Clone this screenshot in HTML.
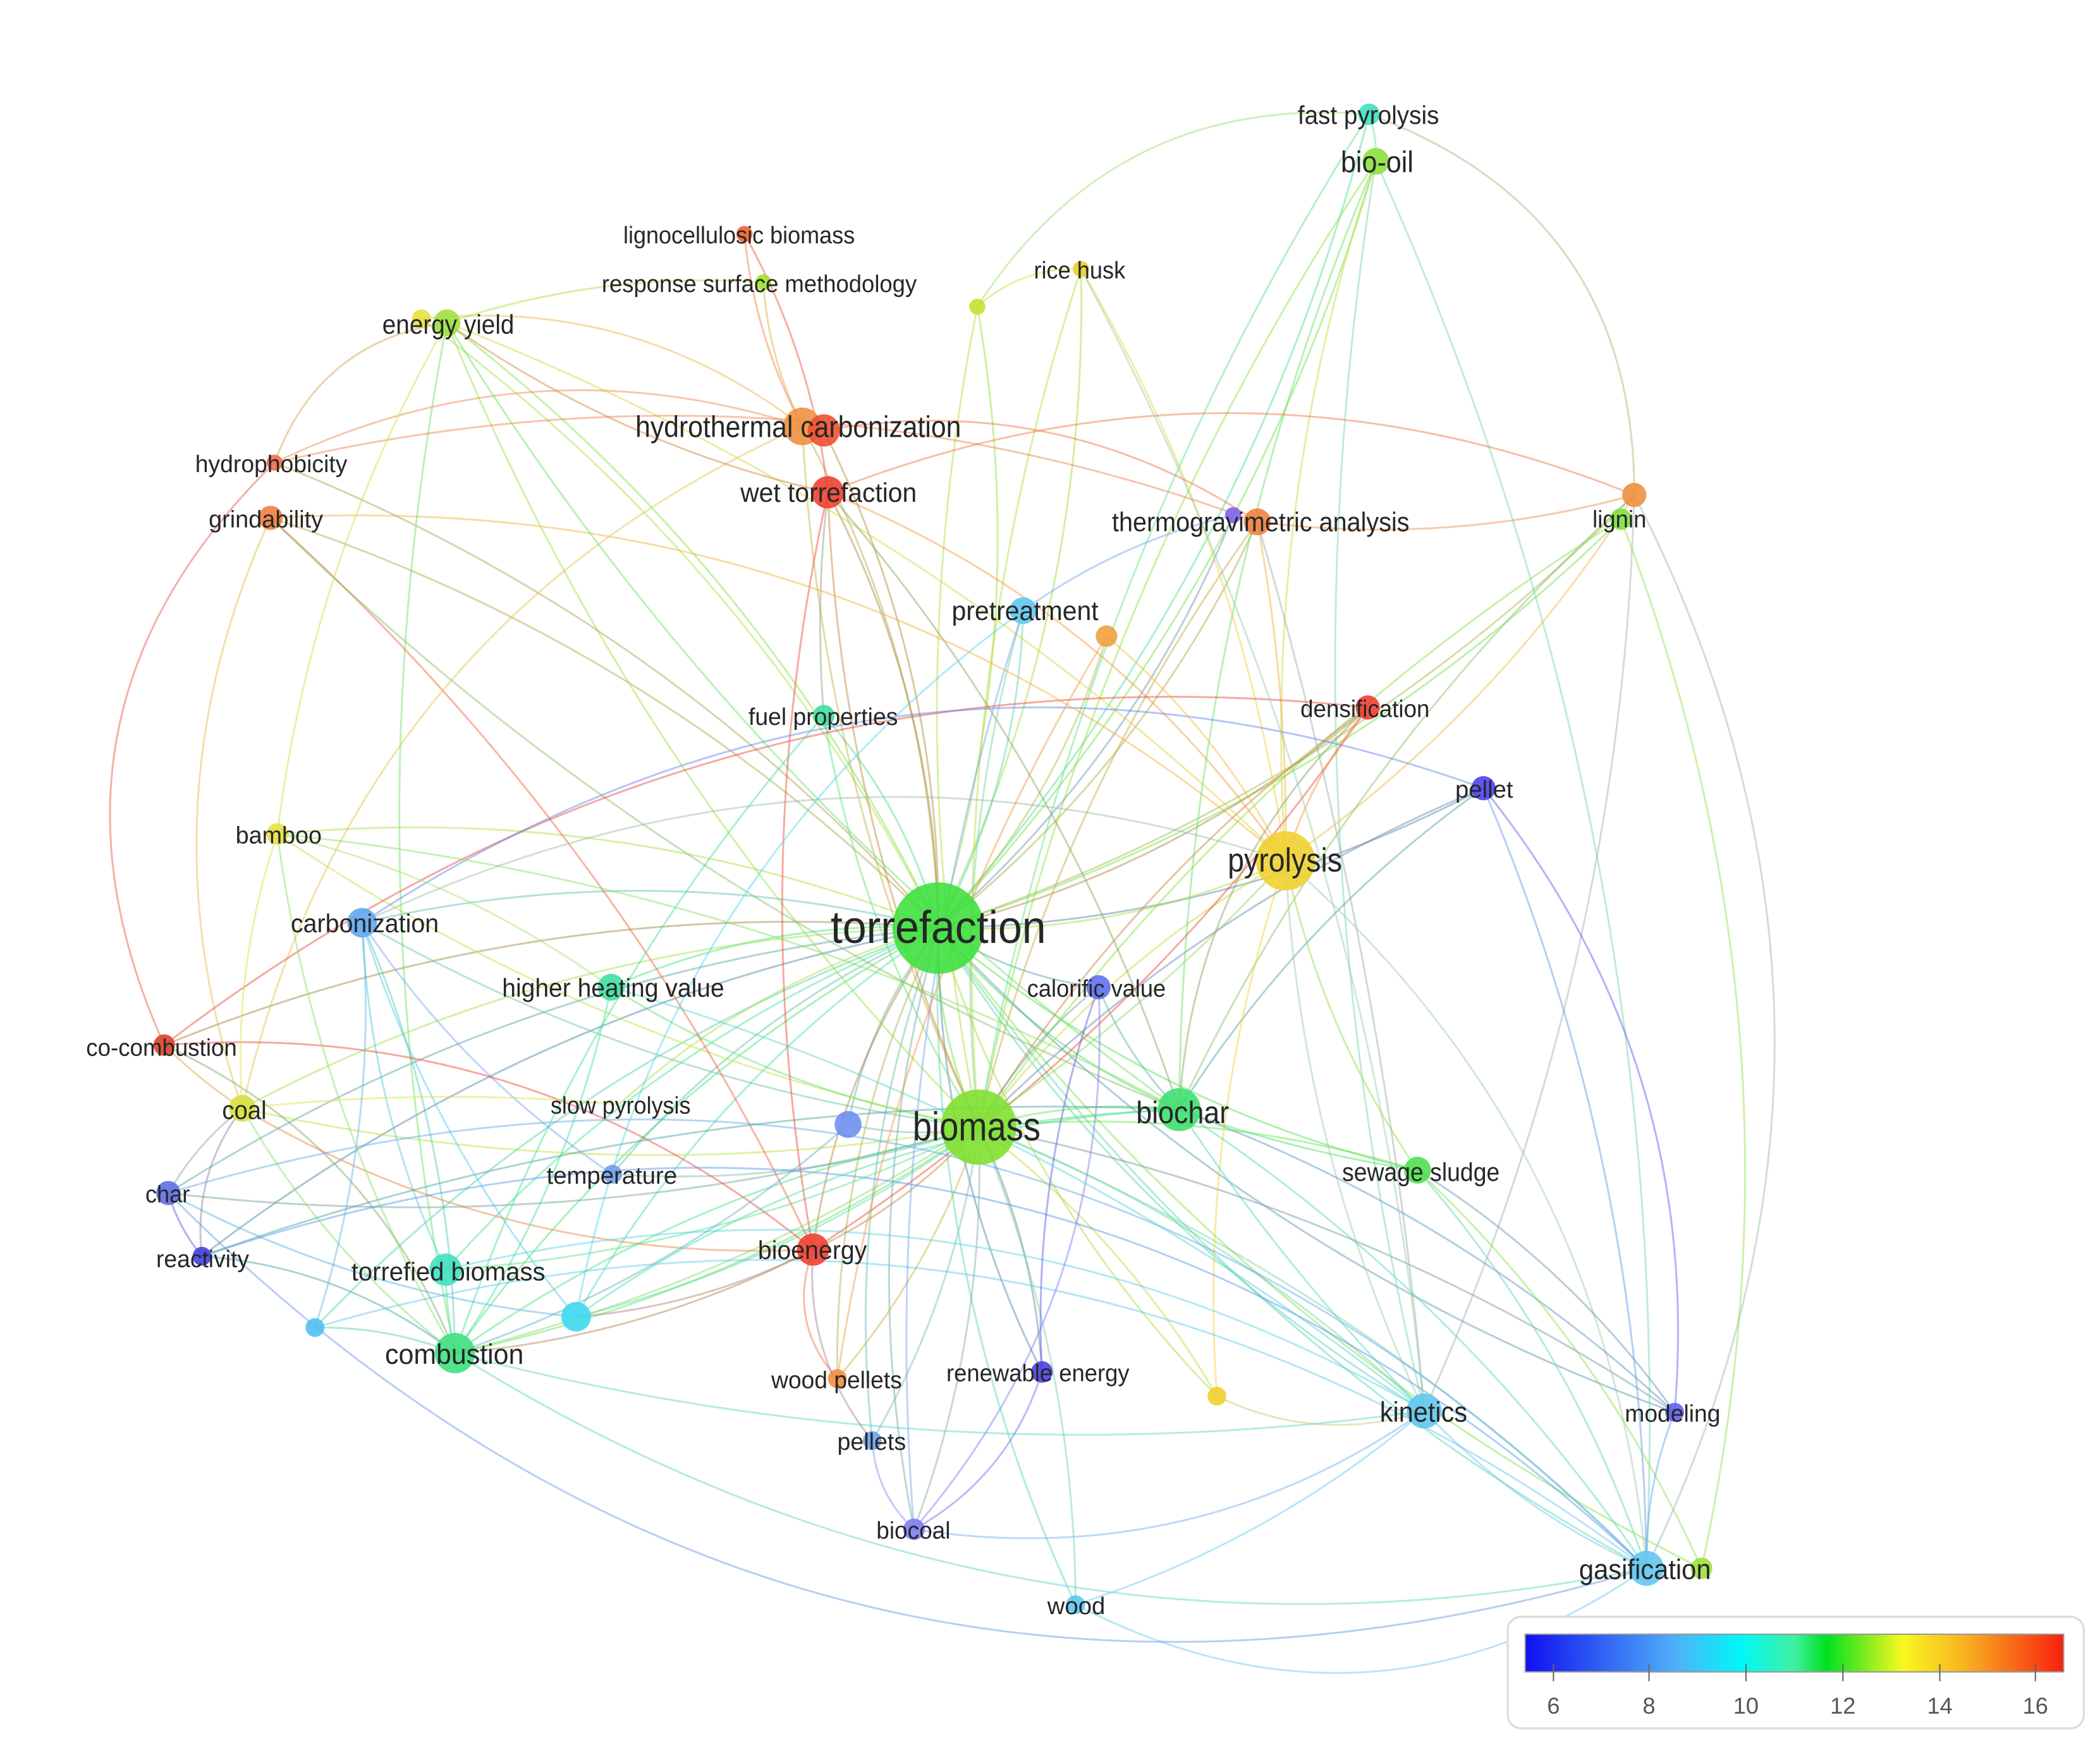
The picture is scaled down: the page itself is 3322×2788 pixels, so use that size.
<!DOCTYPE html>
<html><head><meta charset="utf-8"><style>
html,body{margin:0;padding:0;background:#fff;width:3322px;height:2788px;overflow:hidden}
svg{display:block}
text{font-family:"Liberation Sans",sans-serif;fill:#262626}
</style></head><body>
<svg id="s" width="3322" height="2788" viewBox="0 0 1560 1310" preserveAspectRatio="none" xmlns="http://www.w3.org/2000/svg">
<defs><linearGradient id="lg" x1="0" x2="1" y1="0" y2="0">
<stop offset="0" stop-color="#1010f0"/><stop offset="0.28" stop-color="#50b0f8"/><stop offset="0.4" stop-color="#00f8f8"/><stop offset="0.5" stop-color="#40f0a0"/><stop offset="0.56" stop-color="#00e020"/><stop offset="0.7" stop-color="#f8f820"/><stop offset="0.82" stop-color="#f8b020"/><stop offset="1" stop-color="#f82010"/></linearGradient></defs>
<g id="edges" fill="none" stroke-width="1.4" stroke-opacity="0.45"></g>
<g id="nodes"></g>
<g id="labels">
<text x="964" y="92" font-size="19" textLength="105" lengthAdjust="spacingAndGlyphs">fast pyrolysis</text>
<text x="996" y="128" font-size="22" textLength="54" lengthAdjust="spacingAndGlyphs">bio-oil</text>
<text x="463" y="181" font-size="18" textLength="172" lengthAdjust="spacingAndGlyphs">lignocellulosic biomass</text>
<text x="447" y="217" font-size="18" textLength="234" lengthAdjust="spacingAndGlyphs">response surface methodology</text>
<text x="768" y="207" font-size="18" textLength="68" lengthAdjust="spacingAndGlyphs">rice husk</text>
<text x="284" y="248" font-size="20" textLength="98" lengthAdjust="spacingAndGlyphs">energy yield</text>
<text x="472" y="325" font-size="22" textLength="242" lengthAdjust="spacingAndGlyphs">hydrothermal carbonization</text>
<text x="145" y="351" font-size="18" textLength="113" lengthAdjust="spacingAndGlyphs">hydrophobicity</text>
<text x="155" y="392" font-size="18" textLength="85" lengthAdjust="spacingAndGlyphs">grindability</text>
<text x="550" y="373" font-size="20" textLength="131" lengthAdjust="spacingAndGlyphs">wet torrefaction</text>
<text x="826" y="395" font-size="20" textLength="221" lengthAdjust="spacingAndGlyphs">thermogravimetric analysis</text>
<text x="1183" y="392" font-size="18" textLength="40" lengthAdjust="spacingAndGlyphs">lignin</text>
<text x="707" y="461" font-size="20" textLength="109" lengthAdjust="spacingAndGlyphs">pretreatment</text>
<text x="556" y="539" font-size="18" textLength="111" lengthAdjust="spacingAndGlyphs">fuel properties</text>
<text x="966" y="533" font-size="18" textLength="96" lengthAdjust="spacingAndGlyphs">densification</text>
<text x="1081" y="593" font-size="18" textLength="43" lengthAdjust="spacingAndGlyphs">pellet</text>
<text x="175" y="627" font-size="18" textLength="64" lengthAdjust="spacingAndGlyphs">bamboo</text>
<text x="912" y="648" font-size="25" textLength="85" lengthAdjust="spacingAndGlyphs">pyrolysis</text>
<text x="617" y="701" font-size="34" textLength="160" lengthAdjust="spacingAndGlyphs">torrefaction</text>
<text x="216" y="693" font-size="19" textLength="110" lengthAdjust="spacingAndGlyphs">carbonization</text>
<text x="373" y="741" font-size="19" textLength="165" lengthAdjust="spacingAndGlyphs">higher heating value</text>
<text x="763" y="741" font-size="18" textLength="103" lengthAdjust="spacingAndGlyphs">calorific value</text>
<text x="64" y="785" font-size="18" textLength="112" lengthAdjust="spacingAndGlyphs">co-combustion</text>
<text x="165" y="832" font-size="19" textLength="33" lengthAdjust="spacingAndGlyphs">coal</text>
<text x="409" y="828" font-size="18" textLength="104" lengthAdjust="spacingAndGlyphs">slow pyrolysis</text>
<text x="678" y="848" font-size="30" textLength="95" lengthAdjust="spacingAndGlyphs">biomass</text>
<text x="844" y="835" font-size="23" textLength="69" lengthAdjust="spacingAndGlyphs">biochar</text>
<text x="997" y="878" font-size="19" textLength="117" lengthAdjust="spacingAndGlyphs">sewage sludge</text>
<text x="406" y="880" font-size="18" textLength="97" lengthAdjust="spacingAndGlyphs">temperature</text>
<text x="108" y="894" font-size="18" textLength="33" lengthAdjust="spacingAndGlyphs">char</text>
<text x="116" y="942" font-size="18" textLength="69" lengthAdjust="spacingAndGlyphs">reactivity</text>
<text x="563" y="936" font-size="19" textLength="81" lengthAdjust="spacingAndGlyphs">bioenergy</text>
<text x="261" y="952" font-size="19" textLength="144" lengthAdjust="spacingAndGlyphs">torrefied biomass</text>
<text x="286" y="1014" font-size="21" textLength="103" lengthAdjust="spacingAndGlyphs">combustion</text>
<text x="573" y="1032" font-size="18" textLength="97" lengthAdjust="spacingAndGlyphs">wood pellets</text>
<text x="703" y="1027" font-size="18" textLength="136" lengthAdjust="spacingAndGlyphs">renewable energy</text>
<text x="1025" y="1057" font-size="21" textLength="65" lengthAdjust="spacingAndGlyphs">kinetics</text>
<text x="1207" y="1057" font-size="18" textLength="71" lengthAdjust="spacingAndGlyphs">modeling</text>
<text x="622" y="1078" font-size="18" textLength="51" lengthAdjust="spacingAndGlyphs">pellets</text>
<text x="651" y="1144" font-size="18" textLength="55" lengthAdjust="spacingAndGlyphs">biocoal</text>
<text x="1173" y="1174" font-size="21" textLength="98" lengthAdjust="spacingAndGlyphs">gasification</text>
<text x="778" y="1200" font-size="18" textLength="43" lengthAdjust="spacingAndGlyphs">wood</text>
</g>
<g id="legend">
<rect x="1120" y="1202" width="428" height="83" rx="10" fill="#fff" stroke="#dcdcdc" stroke-width="1.5"/>
<rect x="1133" y="1215" width="400" height="28" fill="url(#lg)" stroke="#999" stroke-width="1"/>
<g stroke="#666" stroke-width="1">
<line x1="1154" y1="1237" x2="1154" y2="1250"/><line x1="1225" y1="1237" x2="1225" y2="1250"/><line x1="1297" y1="1237" x2="1297" y2="1250"/><line x1="1369" y1="1237" x2="1369" y2="1250"/><line x1="1441" y1="1237" x2="1441" y2="1250"/><line x1="1512" y1="1237" x2="1512" y2="1250"/></g>
<g font-size="17" text-anchor="middle">
<text x="1154" y="1274" style="fill:#555">6</text><text x="1225" y="1274" style="fill:#555">8</text><text x="1297" y="1274" style="fill:#555">10</text><text x="1369" y="1274" style="fill:#555">12</text><text x="1441" y="1274" style="fill:#555">14</text><text x="1512" y="1274" style="fill:#555">16</text></g>
</g>
</svg>
<script>
var N={
fp:[1017,85,8,"#40e0c0"],bo:[1022,120,10,"#8ee040"],lb:[553,174,6,"#f06030"],rs:[567,210,6,"#a0e030"],rh:[803,200,6,"#e8d030"],u1:[726,228,6,"#c8e030"],
ey:[332,240,10,"#a0e040"],ey2:[313,237,7,"#e8e040"],hc:[596,317,14,"#f09040"],hc2:[612,320,12,"#f05030"],hp:[204,344,6,"#f07050"],gr:[201,385,9,"#f08040"],
wt:[615,366,12,"#f04030"],tg:[934,388,10,"#f08040"],tg2:[916,383,6,"#8060f0"],li:[1214,368,9,"#f09040"],li2:[1204,386,8,"#80e040"],pt:[760,454,10,"#60c8f0"],
u2:[822,473,8,"#f0a040"],fu:[612,532,8,"#40e0a0"],de:[1016,526,9,"#f04030"],pe:[1102,586,9,"#5040f0"],ba:[206,620,8,"#e8e040"],py:[955,640,22,"#f0d030"],
to:[697,690,34,"#40e040"],ca:[269,686,11,"#60a8f0"],hh:[454,734,10,"#40e0a0"],cv:[816,734,9,"#6070f0"],cc:[122,777,8,"#e04030"],co:[180,824,10,"#d8e040"],
u3:[630,836,10,"#7090f0"],bm:[727,838,28,"#80e030"],bc:[876,825,16,"#40e070"],ss:[1053,870,10,"#50e050"],te:[455,873,7,"#70a0f0"],ch:[125,887,9,"#6070e0"],
re:[150,934,7,"#4040e0"],be:[604,929,12,"#f04030"],tb:[331,944,12,"#40e0c0"],u4:[428,979,11,"#40d8f0"],u5:[234,987,7,"#50c0f0"],cb:[338,1006,15,"#40e080"],
wp:[622,1025,7,"#f09040"],rn:[774,1020,8,"#5040e0"],u6:[904,1038,7,"#f0d030"],ki:[1058,1049,13,"#60c8f0"],mo:[1244,1050,7,"#6060f0"],ps:[648,1071,7,"#70a0f0"],
bi:[679,1137,8,"#8080f0"],ga:[1223,1166,13,"#60c8f0"],ga2:[1264,1166,8,"#a0e040"],wo:[799,1193,7,"#60c8f0"],sp:[460,821,0,"#e0e040"]};
var E=[];
var keys=Object.keys(N);
keys.forEach(function(k){if(k!="to"&&k!="lb"&&k!="rs")E.push(["to",k,0.12]);});
["bo","fp","ey","hc","wt","tg","li2","pt","fu","de","pe","ba","py","ca","hh","cv","co","u3","bc","ss","te","ch","be","tb","u4","cb","wp","rn","u6","ki","mo","ps","bi","ga","wo","u1","rh"].forEach(function(k){E.push(["bm",k,-0.1]);});
[["bo","fp",0.1],["fp","li",-0.35],["bo","ga",-0.12],["bo","py",0.1],["bo","bc",0.1],["bo","ki",0.1],["fp","u1",0.3],["rh","py",-0.1],["rh","u1",0.2],
["ey","hp",0.3],["ey2","hc",-0.2],["ey","cb",0.1],["ey","rs",-0.1],["ey","bc",0.1],["ey","py",-0.1],["hp","cc",0.35],["gr","co",0.2],["gr","be",-0.1],["gr","bc",0.1],
["hp","hc",-0.2],["lb","wt",-0.1],["lb","hc",0.1],["rs","hc",0.1],["hc2","tg",-0.2],["hc","co",0.25],["wt","be",0.1],["wt","py",-0.15],["wt","li",-0.2],["wt","fu",0.05],["wt","bc",-0.1],
["tg","li",0.1],["tg","py",-0.05],["tg2","pt",0.1],["tg","ki",-0.05],["li","ki",-0.1],["li","py",-0.1],["li","bc",0.1],["li","ga",-0.25],["de","be",-0.1],["de","py",0.1],["de","bc",0.2],["de","cc",0.2],
["pe","ca",0.25],["pe","bc",0.1],["pe","ga",-0.1],["py","cb",-0.15],["py","ki",0.1],["py","ga",-0.2],["py","u6",0.1],["py","ca",0.2],["py","ss",0.1],
["ca","u4",0.1],["ca","cb",-0.1],["ca","te",0.1],["ca","tb",0.1],["cc","co",0.05],["cc","cb",-0.2],["cc","be",-0.2],["co","ch",0.1],["co","cb",0.1],["co","re",0.2],["co","sp",-0.05],["co","be",0.15],
["ch","re",0.1],["ch","u4",0.1],["ch","ga",-0.3],["re","ga",-0.3],["re","cb",-0.15],["re","bc",-0.1],["u5","cb",-0.1],["u5","ca",0.1],["u5","ga",-0.25],["tb","cb",0.05],["tb","ki",-0.2],["u4","be",0.1],["u4","bc",-0.15],
["cb","be",0.1],["cb","ki",0.1],["cb","ga",0.2],["cb","bc",-0.15],["cb","u3",0.1],["be","wp",0.3],["be","ps",0.2],["cv","rn",0.1],["cv","bi",-0.2],["cv","bc",0.1],["rn","bi",-0.2],["ps","bi",0.2],
["bc","ki",0.05],["bc","ga",-0.1],["bc","ss",0.05],["bc","mo",-0.1],["ss","ga",-0.1],["ss","ga2",-0.1],["ss","mo",-0.1],["ki","ga",0.1],["ki","u6",-0.2],["ki","wo",-0.1],["wo","ga",0.3],["bi","ki",0.2],["mo","ga",0.1],["pe","mo",-0.2],
["pt","u4",0.2],["pt","bi",0.1],["fu","cb",0.1],["hh","cb",-0.1],["hh","ki",-0.1],["hh","ba",0.1],["ba","cb",0.1],["ba","bc",-0.1],["ba","co",0.1],["gr","py",-0.2],["hp","tg",-0.15],["u2","wp",0.1],["u2","py",-0.1],["ey","wt",0.1],["ey","ba",0.1],["rh","ki",-0.1],["ga2","li2",0.15],["ga","ch",-0.3]
].forEach(function(e){E.push(e);});
function hx(c){return [parseInt(c.substr(1,2),16),parseInt(c.substr(3,2),16),parseInt(c.substr(5,2),16)];}
function mix(a,b){var x=hx(a),y=hx(b);return "rgb("+Math.round(x[0]*0.4+y[0]*0.6)+","+Math.round(x[1]*0.4+y[1]*0.6)+","+Math.round(x[2]*0.4+y[2]*0.6)+")";}
var g=document.getElementById("edges"),h="";
E.forEach(function(e,i){var a=N[e[0]],b=N[e[1]];if(!a||!b)return;var dx=b[0]-a[0],dy=b[1]-a[1];var c=e[2];var mx=(a[0]+b[0])/2-dy*c,my=(a[1]+b[1])/2+dx*c;
h+='<path d="M'+a[0]+' '+a[1]+' Q'+mx.toFixed(1)+' '+my.toFixed(1)+' '+b[0]+' '+b[1]+'" stroke="'+mix(a[3],b[3])+'"/>';});
g.innerHTML=h;
var n=document.getElementById("nodes"),s="";
keys.forEach(function(k){var a=N[k];if(a[2]>0)s+='<circle cx="'+a[0]+'" cy="'+a[1]+'" r="'+a[2]+'" fill="'+a[3]+'" fill-opacity="0.9"/>';});
n.innerHTML=s;
</script>
</body></html>
